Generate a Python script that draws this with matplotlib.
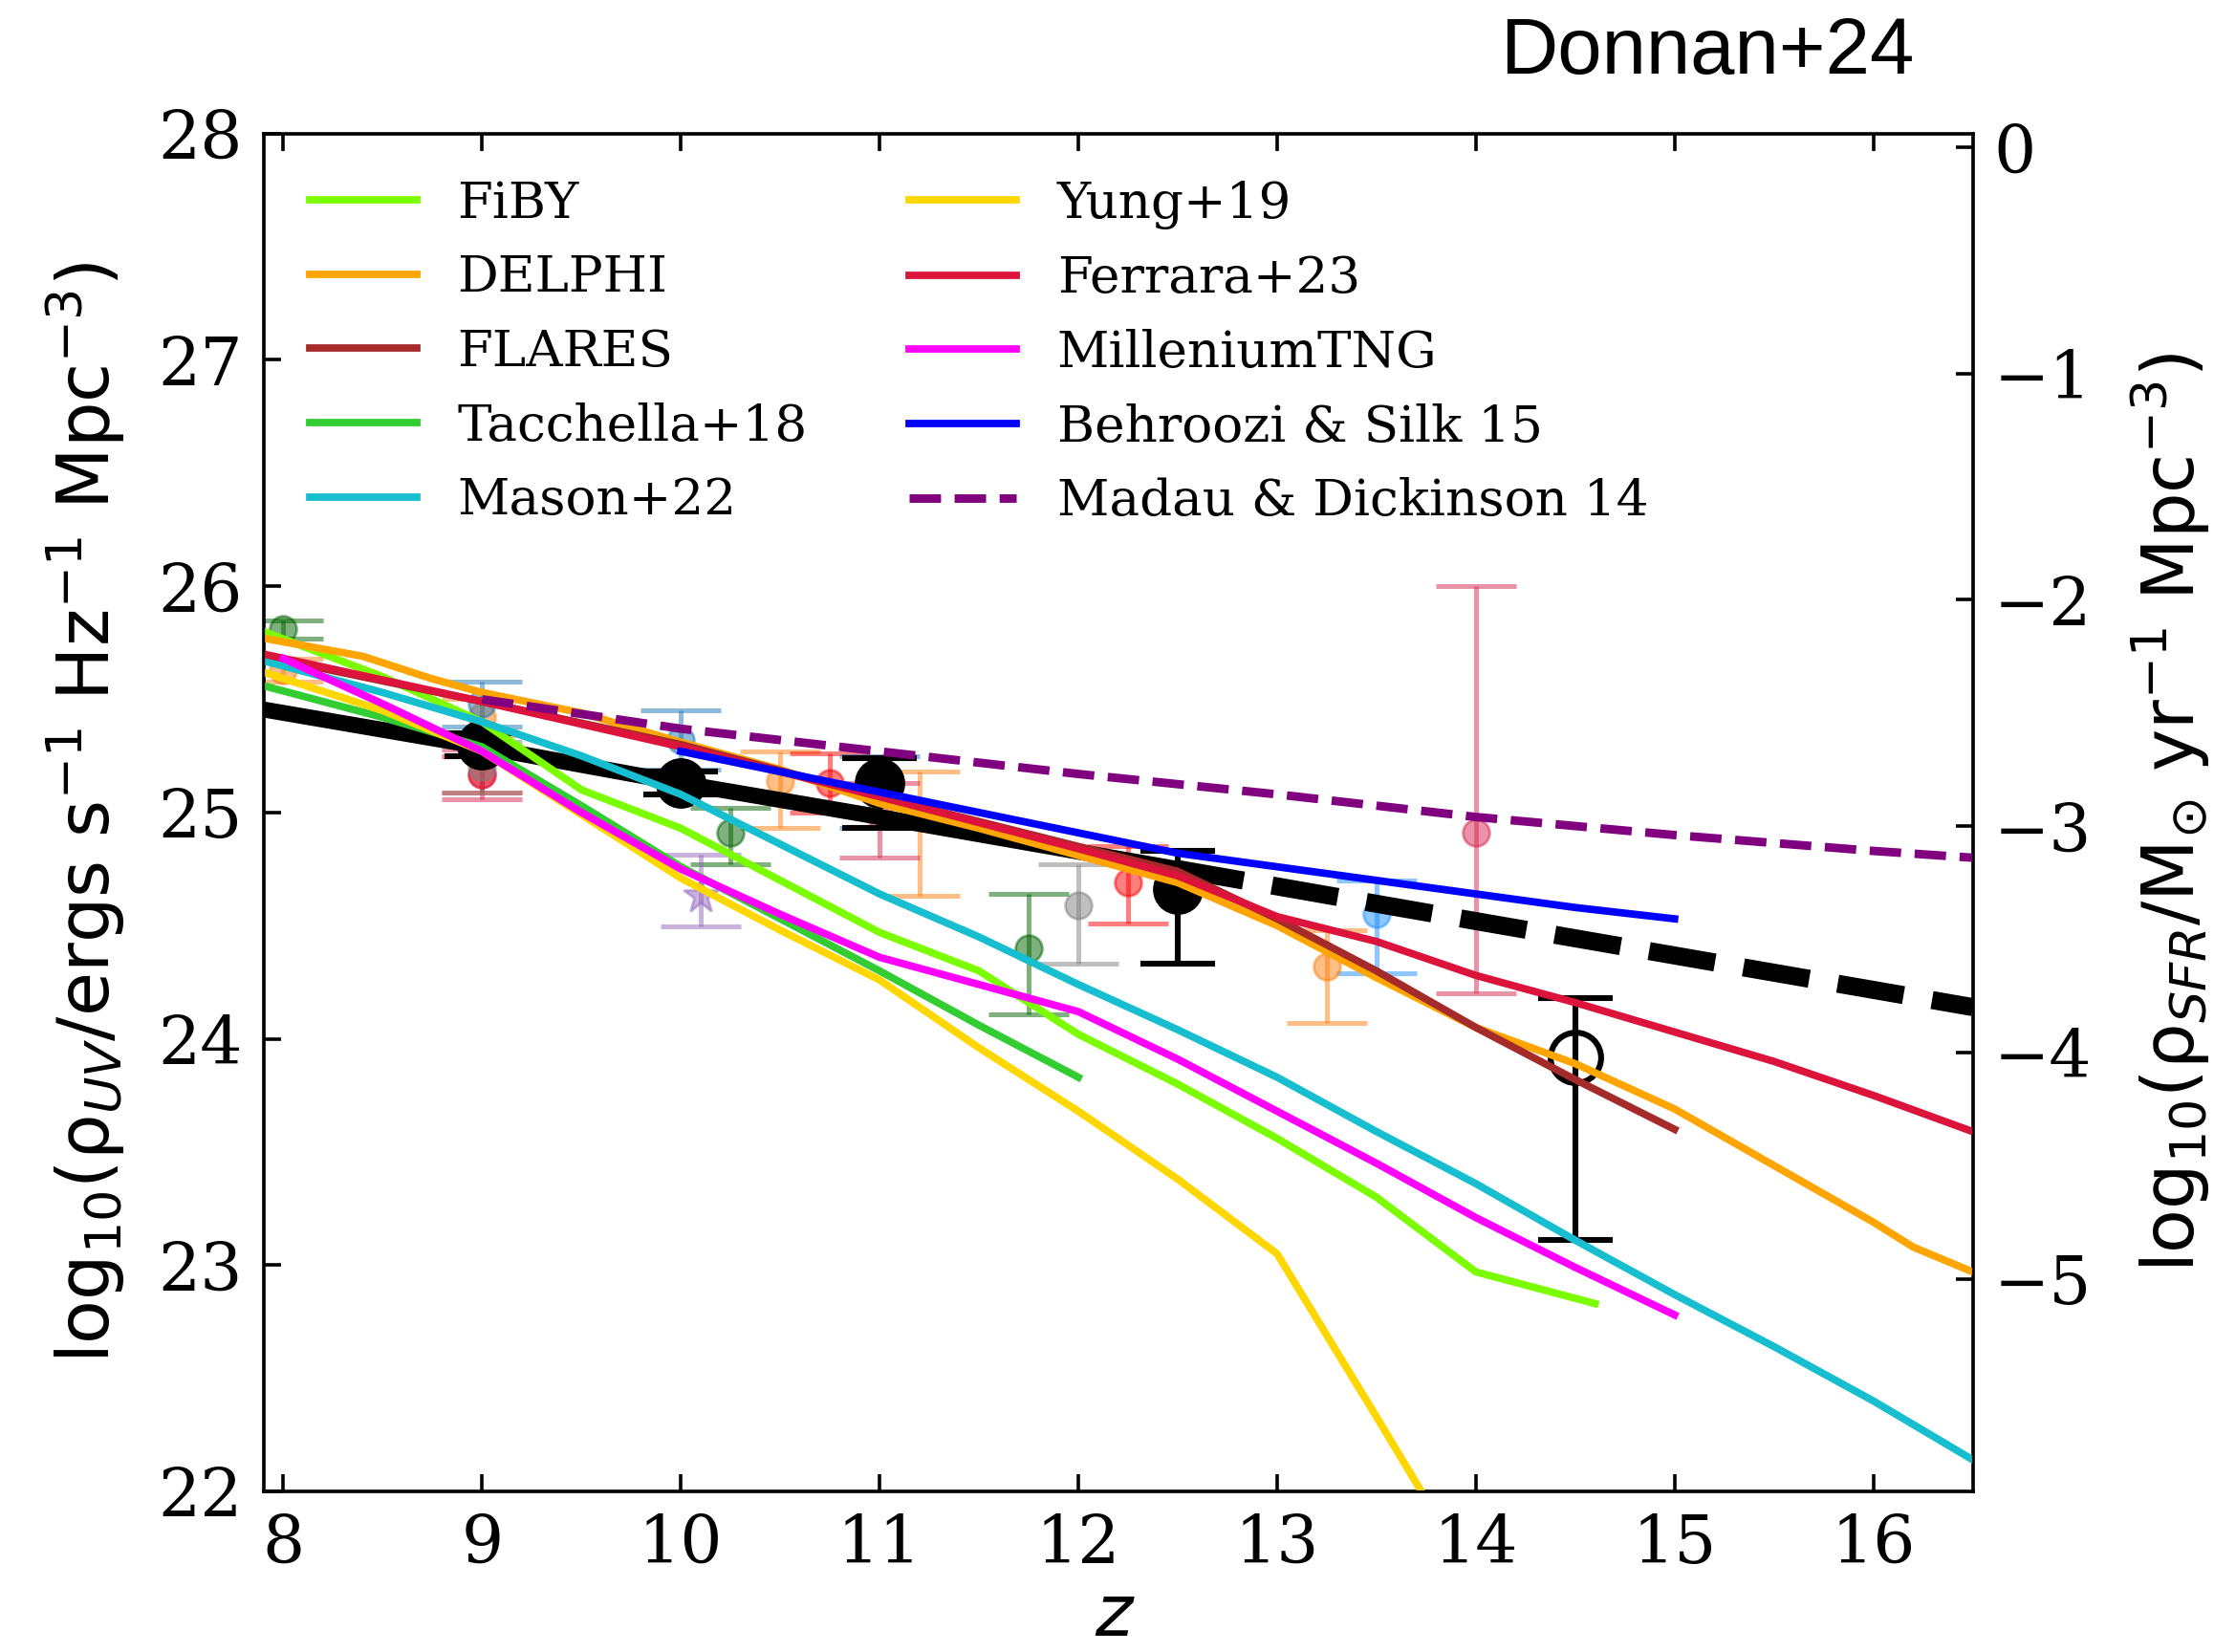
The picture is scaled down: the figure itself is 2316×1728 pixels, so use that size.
import numpy as np
import matplotlib
matplotlib.use("Agg")
import matplotlib.pyplot as plt

# ---------------- model predictions: log10 rho_UV vs redshift ----------------
z_fiby = [7.9, 8.5, 9.0, 9.5, 10.0, 10.5, 11.0, 11.5, 12.0, 12.5, 13.0, 13.5, 14.0, 14.6]
y_fiby = [25.80, 25.60, 25.40, 25.10, 24.93, 24.70, 24.47, 24.30, 24.02, 23.80, 23.56, 23.30, 22.97, 22.83]

z_delphi = [7.9, 8.4, 8.75, 9.0, 9.5, 10.0, 10.5, 11.0, 11.5, 12.0, 12.5, 13.0, 13.5, 14.0,
            14.5, 15.0, 15.5, 16.0, 16.2, 16.5]
y_delphi = [25.77, 25.69, 25.59, 25.53, 25.44, 25.31, 25.19, 25.04, 24.93, 24.81, 24.69, 24.50,
            24.27, 24.05, 23.89, 23.69, 23.44, 23.19, 23.08, 22.97]

z_flares = [7.9, 9.0, 10.0, 11.0, 12.0, 12.5, 13.0, 13.5, 14.0, 14.5, 15.0]
y_flares = [25.69, 25.49, 25.30, 25.07, 24.85, 24.74, 24.53, 24.30, 24.05, 23.82, 23.60]

z_tacchella = [7.9, 8.5, 9.0, 9.5, 10.0, 10.5, 11.0, 11.5, 12.0]
y_tacchella = [25.56, 25.42, 25.29, 25.03, 24.76, 24.53, 24.30, 24.06, 23.83]

z_mason = [7.9, 8.5, 9.0, 9.5, 10.0, 10.5, 11.0, 11.5, 12.0, 12.5, 13.0, 13.5, 14.0, 14.5,
           15.0, 15.5, 16.0, 16.5]
y_mason = [25.67, 25.53, 25.40, 25.25, 25.08, 24.86, 24.64, 24.45, 24.24, 24.04, 23.83, 23.59,
           23.36, 23.11, 22.87, 22.64, 22.40, 22.14]

z_yung = [7.9, 8.5, 9.0, 9.5, 10.0, 10.5, 11.0, 11.5, 12.0, 12.5, 13.0, 13.5, 14.0]
y_yung = [25.62, 25.45, 25.27, 24.99, 24.71, 24.48, 24.26, 23.96, 23.68, 23.38, 23.05, 22.33, 21.60]

z_ferrara = [7.9, 9.0, 10.0, 11.0, 12.0, 12.5, 13.0, 13.5, 14.0, 14.5, 15.0, 15.5, 16.0, 16.5]
y_ferrara = [25.70, 25.49, 25.29, 25.07, 24.84, 24.72, 24.54, 24.43, 24.28, 24.16, 24.03, 23.90,
             23.75, 23.59]

z_mtng = [8.0, 8.5, 9.0, 9.5, 10.0, 10.5, 11.0, 11.5, 12.0, 12.5, 13.0, 13.5, 14.0, 14.5, 15.0]
y_mtng = [25.68, 25.48, 25.27, 25.00, 24.75, 24.55, 24.36, 24.24, 24.12, 23.91, 23.68, 23.45,
          23.21, 22.99, 22.78]

z_behroozi = [10.0, 10.5, 11.0, 11.5, 12.0, 12.5, 13.0, 13.5, 14.0, 14.5, 15.0]
y_behroozi = [25.27, 25.18, 25.09, 25.00, 24.91, 24.82, 24.76, 24.70, 24.64, 24.58, 24.53]

z_madau = [9.0, 10.0, 11.0, 12.0, 13.0, 14.0, 15.0, 16.0, 16.5]
y_madau = [25.50, 25.37, 25.27, 25.17, 25.08, 24.98, 24.90, 24.83, 24.80]

# ---------------- this work: fit and measurements ----------------
z_fit_solid = [7.9, 9.0, 10.0, 11.0, 12.5]
y_fit_solid = [25.455, 25.29, 25.13, 24.98, 24.75]
z_fit_dash = [12.5, 14.0, 16.5]
y_fit_dash = [24.75, 24.52, 24.14]

z_obs = [9.0, 10.0, 11.0, 12.5]
y_obs = [25.30, 25.13, 25.13, 24.66]
err_lo_obs = [0.05, 0.05, 0.20, 0.33]
err_hi_obs = [0.05, 0.05, 0.11, 0.17]

z_obs_open = [14.5]
y_obs_open = [23.92]
err_lo_open = [0.81]
err_hi_open = [0.26]

# ---------------- literature measurements ----------------
lit_green_z = [8.0, 10.25, 11.75]
lit_green_y = [25.81, 24.91, 24.40]
lit_green_lo = [0.04, 0.14, 0.29]
lit_green_hi = [0.04, 0.11, 0.24]

lit_orange_z = [8.0, 9.0, 10.5, 11.2, 13.25]
lit_orange_y = [25.63, 25.42, 25.14, 24.99, 24.32]
lit_orange_lo = [0.05, 0.08, 0.21, 0.36, 0.25]
lit_orange_hi = [0.05, 0.08, 0.13, 0.19, 0.16]

lit_red_z = [9.0, 10.75, 12.25]
lit_red_y = [25.17, 25.13, 24.69]
lit_red_lo = [0.08, 0.13, 0.18]
lit_red_hi = [0.08, 0.13, 0.16]

lit_crimson_z = [9.0, 11.0, 14.0]
lit_crimson_y = [25.17, 24.99, 24.91]
lit_crimson_lo = [0.11, 0.19, 0.71]
lit_crimson_hi = [0.11, 0.14, 1.09]

lit_steel_z = [9.0, 10.0, 11.0]
lit_steel_y = [25.48, 25.32, 25.10]
lit_steel_lo = [0.10, 0.13, 0.17]
lit_steel_hi = [0.10, 0.13, 0.15]

lit_dodger_z = [13.5]
lit_dodger_y = [24.55]
lit_dodger_lo = [0.26]
lit_dodger_hi = [0.15]

lit_gray_z = [9.0, 12.0]
lit_gray_y = [25.20, 24.59]
lit_gray_lo = [0.11, 0.26]
lit_gray_hi = [0.11, 0.18]

lit_star_z = [10.1]
lit_star_y = [24.63]
lit_star_lo = [0.135]
lit_star_hi = [0.185]

kappa_uv = np.log10(1.15e-28)   # rho_UV -> SFR density conversion

ylim = (22, 28)
xlim = (7.9, 16.5)

serif = "DejaVu Serif"
tick_size = 25
label_size = 27

fig = plt.figure(figsize=(11.58, 8.64), dpi=200)
ax = fig.add_axes([0.119, 0.0972, 0.772, 0.822])

# literature points (translucent)
lit_sets = [
    (lit_green_z, lit_green_y, lit_green_lo, lit_green_hi, "darkgreen", "o"),
    (lit_orange_z, lit_orange_y, lit_orange_lo, lit_orange_hi, "#ff7f0e", "o"),
    (lit_red_z, lit_red_y, lit_red_lo, lit_red_hi, "red", "o"),
    (lit_crimson_z, lit_crimson_y, lit_crimson_lo, lit_crimson_hi, "#d62750", "o"),
    (lit_steel_z, lit_steel_y, lit_steel_lo, lit_steel_hi, "#1f77b4", "o"),
    (lit_dodger_z, lit_dodger_y, lit_dodger_lo, lit_dodger_hi, "#1e8fff", "o"),
    (lit_gray_z, lit_gray_y, lit_gray_lo, lit_gray_hi, "gray", "o"),
    (lit_star_z, lit_star_y, lit_star_lo, lit_star_hi, "#9467bd", "*"),
]
for zz, yy, lo, hi, col, mk in lit_sets:
    ax.errorbar(zz, yy, yerr=[lo, hi], fmt=mk, color=col, alpha=0.5,
                ms=10 if mk == "o" else 14, elinewidth=1.8, capsize=15, capthick=1.8,
                zorder=2)

# this work
ax.plot(z_fit_solid, y_fit_solid, color="black", lw=6, solid_capstyle="butt", zorder=3)
ax.plot(z_fit_dash, y_fit_dash, color="black", lw=6.8, ls="--", zorder=3)
ax.errorbar(z_obs, y_obs, yerr=[err_lo_obs, err_hi_obs], fmt="o", color="black",
            ms=18, elinewidth=2.2, capsize=14, capthick=2.2, zorder=4)
ax.errorbar(z_obs_open, y_obs_open, yerr=[err_lo_open, err_hi_open], fmt="o",
            color="black", mfc="none", mew=2.2, ms=19, elinewidth=2.2, capsize=14,
            capthick=2.2, zorder=4)

# models
lw = 2.8
models = [
    (z_fiby, y_fiby, "#7cfc00", "-", "FiBY"),
    (z_delphi, y_delphi, "#ffa500", "-", "DELPHI"),
    (z_flares, y_flares, "#a52a2a", "-", "FLARES"),
    (z_tacchella, y_tacchella, "#32cd32", "-", "Tacchella+18"),
    (z_mason, y_mason, "#17becf", "-", "Mason+22"),
    (z_yung, y_yung, "#ffd700", "-", "Yung+19"),
    (z_ferrara, y_ferrara, "#dc143c", "-", "Ferrara+23"),
    (z_mtng, y_mtng, "#ff00ff", "-", "MilleniumTNG"),
    (z_behroozi, y_behroozi, "#0000ff", "-", "Behroozi & Silk 15"),
    (z_madau, y_madau, "#800080", "--", "Madau & Dickinson 14"),
]
for zz, yy, col, ls, lab in models:
    ax.plot(zz, yy, color=col, lw=3.2 if ls == "--" else lw, ls=ls, label=lab, zorder=5)

ax.set_xlim(*xlim)
ax.set_ylim(*ylim)
ax.set_xticks(np.arange(8, 17, 1))
ax.set_yticks(np.arange(22, 29, 1))
ax.tick_params(direction="in", top=True, right=False, length=6.5, width=1.3,
               labelsize=tick_size, labelfontfamily=serif, pad=8)
for sp in ax.spines.values():
    sp.set_linewidth(1.3)

ax.set_xlabel("$z$", fontsize=label_size)
ax.xaxis.set_label_coords(0.498, -0.066)
ax.set_ylabel("log$_{10}$(ρ$_{UV}$/ergs s$^{-1}$ Hz$^{-1}$ Mpc$^{-3}$)", fontsize=label_size)
ax.yaxis.set_label_coords(-0.080, 0.5)

# SFR density axis
ax2 = ax.twinx()
ax2.set_ylim(ylim[0] + kappa_uv, ylim[1] + kappa_uv)
ax2.set_yticks(np.arange(-5, 1, 1))
ax2.tick_params(direction="in", length=6.5, width=1.3, labelsize=tick_size,
                labelfontfamily=serif, pad=8)
ax2.set_ylabel("log$_{10}$(ρ$_{SFR}$/M$_{\\odot}$ yr$^{-1}$ Mpc$^{-3}$)", fontsize=label_size)
ax2.yaxis.set_label_coords(1.091, 0.5)

leg = ax.legend(ncol=2, loc="upper left", frameon=False,
                prop={"family": serif, "size": 19.2}, handlelength=2.1,
                labelspacing=0.5, columnspacing=2.0)

fig.text(0.771, 0.968, "Donnan+24", fontsize=30, family="Liberation Sans",
         ha="center", va="center")

fig.savefig("out.png", dpi=200)
